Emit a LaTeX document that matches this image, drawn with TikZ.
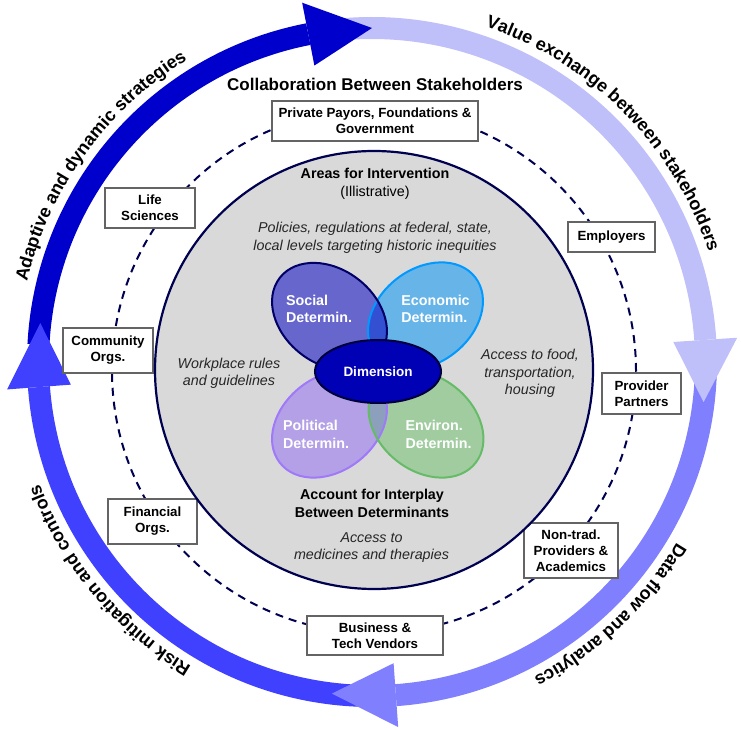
\documentclass[tikz,border=0pt]{standalone}
\usepackage{fontspec}
\setmainfont{Liberation Sans}
\usetikzlibrary{decorations.text,calc}
\definecolor{arrA}{RGB}{0,0,204}
\definecolor{arrB}{RGB}{191,191,250}
\definecolor{arrC}{RGB}{128,128,255}
\definecolor{arrD}{RGB}{64,64,255}
\definecolor{navy}{RGB}{0,0,80}
\definecolor{graybg}{RGB}{217,217,217}
\definecolor{boxline}{RGB}{100,100,100}
\definecolor{socialF}{RGB}{102,102,204}
\definecolor{socialD}{RGB}{0,0,102}
\definecolor{econF}{RGB}{102,180,232}
\definecolor{econD}{RGB}{0,153,255}
\definecolor{polF}{RGB}{180,160,230}
\definecolor{polD}{RGB}{160,120,250}
\definecolor{envF}{RGB}{160,204,160}
\definecolor{envD}{RGB}{102,187,102}
\definecolor{ovA}{RGB}{52,80,210}
\definecolor{ovB}{RGB}{140,160,190}
\definecolor{dimF}{RGB}{0,0,180}
\definecolor{dimD}{RGB}{0,0,60}
\begin{document}
\begin{tikzpicture}[x=1pt,y=1pt,
  stake/.style={draw=boxline, line width=1.2pt, fill=white, inner sep=0pt,
    font=\bfseries\fontsize{13.3}{16}\selectfont, align=center},
  boldtxt/.style={inner sep=0pt, align=center, font=\bfseries\fontsize{14.3}{18}\selectfont},
  itxt/.style={inner sep=0pt, align=center, font=\itshape\fontsize{14.3}{17.5}\selectfont, text=black!85},
  leaftxt/.style={inner sep=0pt, align=left, text=white, font=\bfseries\fontsize{14.3}{17.7}\selectfont},
  band/.style={line width=22pt, line cap=butt},
  ringtext/.style={decorate, decoration={text along path, text align=center, text={|\bfseries\fontsize{18}{20}\selectfont|#1}}}
]
\useasboundingbox (0,0) rectangle (741,729);
\coordinate (O) at (372,367);
\coordinate (D) at (374,358);
\coordinate (G) at (374,359);

% ---- outer cycle arrows: bands
\draw[band, arrA] ($(O)+(177:334)$) arc[start angle=177, end angle=101, radius=334];
\draw[band, arrB] ($(O)+(95:334)$) arc[start angle=95, end angle=3.8, radius=334];
\draw[band, arrC] ($(O)+(0:334)$) arc[start angle=0, end angle=-85.9, radius=334];
\draw[band, arrD] ($(O)+(-91:334)$) arc[start angle=-91, end angle=-175.7, radius=334];
% heads
\fill[arrA] ($(O)+(101:366)$) -- ($(O)+(90:334)$) -- ($(O)+(101:302)$) -- cycle;
\fill[arrB] ($(O)+(3.8:366)$) -- ($(O)+(-6.9:334)$) -- ($(O)+(3.8:302)$) -- cycle;
\fill[arrC] ($(O)+(-85.9:366)$) -- ($(O)+(-96.9:334)$) -- ($(O)+(-85.9:302)$) -- cycle;
\fill[arrD] ($(O)+(-175.7:366)$) -- ($(O)+(-186.7:334)$) -- ($(O)+(-175.7:302)$) -- cycle;

% ---- curved labels
\path[ringtext={Adaptive and dynamic strategies}] ($(O)+(189.2:354)$) arc[start angle=189.2, end angle=99.2, radius=354];
\path[ringtext={Value exchange between stakeholders}] ($(O)+(89.7:354)$) arc[start angle=89.7, end angle=-0.3, radius=354];
\path[ringtext={Data flow and analytics}] ($(O)+(-1.7:354)$) arc[start angle=-1.7, end angle=-91.7, radius=354];
\path[ringtext={Risk mitigation and controls}] ($(O)+(-95.25:354)$) arc[start angle=-95.25, end angle=-185.25, radius=354];

% ---- dashed stakeholder circle
\draw[navy, line width=2pt, dash pattern=on 8pt off 6pt] (D) circle[radius=262];

% ---- stakeholder boxes
\node[stake, minimum width=206, minimum height=40] (payors) at (375,608) {Private Payors, Foundations \&\\Government};
\node[stake, minimum width=90, minimum height=40] (life) at (150,521) {Life\\Sciences};
\node[stake, minimum width=90, minimum height=45] (community) at (108,378.5) {Community\\Orgs.};
\node[stake, minimum width=89, minimum height=45] (financial) at (152.5,207.5) {Financial\\Orgs.};
\node[stake, minimum width=136, minimum height=39] (business) at (375,93.5) {Business \&\\Tech Vendors};
\node[stake, minimum width=94, minimum height=55] (nontrad) at (571,178.5) {Non-trad.\\Providers \&\\Academics};
\node[stake, minimum width=79, minimum height=41] (provider) at (641.5,335.5) {Provider\\Partners};
\node[stake, minimum width=87, minimum height=30] (employers) at (611.5,492) {Employers};

% ---- title
\node[inner sep=0pt, font=\bfseries\fontsize{17}{20}\selectfont] (title) at (375,645) {Collaboration Between Stakeholders};

% ---- inner circle
\draw[navy, line width=2.2pt, fill=graybg] (G) circle[radius=219];

\node[boldtxt] (areas) at (375,545) {Areas for Intervention\\{\mdseries (Illistrative)}};
\node[itxt] (policies) at (375,491) {Policies, regulations at federal, state,\\local levels targeting historic inequities};
\node[itxt] (workplace) at (229,355.5) {Workplace rules\\and guidelines};
\node[itxt] (food) at (530,355.5) {Access to food,\\transportation,\\housing};
\node[boldtxt] (account) at (372,226) {Account for Interplay\\Between Determinants};
\node[itxt] (medicines) at (371.5,181.5) {Access to\\medicines and therapies};

% ---- determinant ellipses: fills
\fill[econF, shift={(425.5,413)}, rotate=38] (0,0) ellipse[x radius=63, y radius=47];
\fill[socialF, shift={(329.5,412.5)}, rotate=-38] (0,0) ellipse[x radius=63, y radius=47];
\fill[polF, shift={(329.5,305)}, rotate=38] (0,0) ellipse[x radius=63, y radius=47];
\fill[envF, shift={(426,305)}, rotate=-38] (0,0) ellipse[x radius=63, y radius=47];
% overlaps
\begin{scope}
  \clip[shift={(329.5,412.5)}, rotate=-38] (0,0) ellipse[x radius=63, y radius=47];
  \fill[ovA, shift={(425.5,413)}, rotate=38] (0,0) ellipse[x radius=63, y radius=47];
\end{scope}
\begin{scope}
  \clip[shift={(329.5,305)}, rotate=38] (0,0) ellipse[x radius=63, y radius=47];
  \fill[ovB, shift={(426,305)}, rotate=-38] (0,0) ellipse[x radius=63, y radius=47];
\end{scope}
% borders
\draw[econD, line width=2pt, shift={(425.5,413)}, rotate=38] (0,0) ellipse[x radius=63, y radius=47];
\draw[socialD, line width=2pt, shift={(329.5,412.5)}, rotate=-38] (0,0) ellipse[x radius=63, y radius=47];
\draw[polD, line width=2pt, shift={(329.5,305)}, rotate=38] (0,0) ellipse[x radius=63, y radius=47];
\draw[envD, line width=2pt, shift={(426,305)}, rotate=-38] (0,0) ellipse[x radius=63, y radius=47];

% ---- dimension
\draw[dimD, line width=2pt, fill=dimF] (378,357.5) ellipse[x radius=63, y radius=31.5];
\node[inner sep=0pt, text=white, font=\bfseries\fontsize{13.5}{16}\selectfont] (dimension) at (378,357.5) {Dimension};

% ---- determinant labels
\node[leaftxt] (social) at (319,420) {Social\\Determin.};
\node[leaftxt] (economic) at (435.5,420) {Economic\\Determin.};
\node[leaftxt] (political) at (316,294.5) {Political\\Determin.};
\node[leaftxt] (environ) at (438.5,294.5) {Environ.\\Determin.};
\end{tikzpicture}
\end{document}
